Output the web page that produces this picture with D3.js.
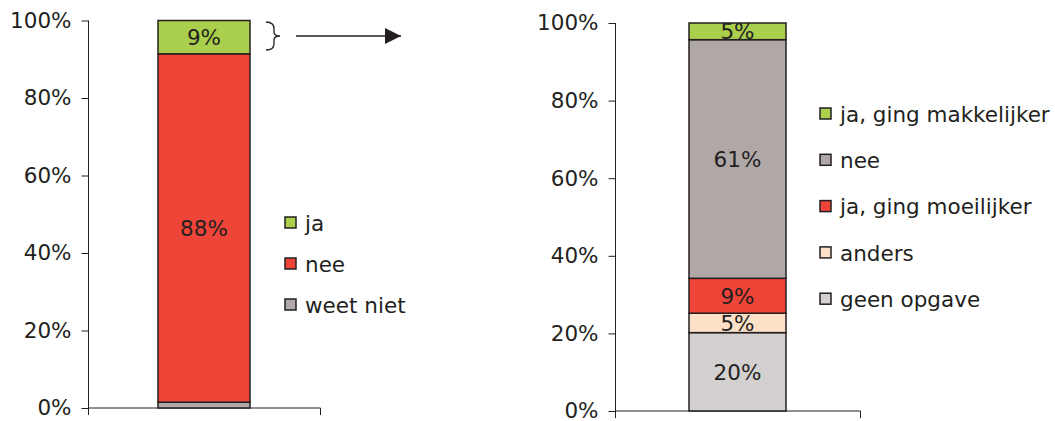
<!DOCTYPE html>
<html>
<head>
<meta charset="utf-8">
<script src="https://cdn.jsdelivr.net/npm/d3@7"></script>
<style>
  body { margin: 0; background: #fff; }
  text { font-family: "DejaVu Sans", Verdana, sans-serif; fill: #231f20; }
</style>
</head>
<body>
<div class="chart"></div>
<script>
var svgWidth = 1055;
var svgHeight = 421;

// left chart: answers (bottom to top)
var leftCats = ["weet niet", "nee", "ja"];
var leftValues = [1.5, 89.9, 8.6];
var leftLabels = ["", "88%", "9%"];
var leftColors = ["#b0a8a7", "#ef4438", "#a9cf4c"];

// right chart: breakdown (bottom to top)
var rightCats = ["geen opgave", "anders", "ja, ging moeilijker", "nee", "ja, ging makkelijker"];
var rightValues = [20.2, 5.0, 9.0, 61.5, 4.3];
var rightLabels = ["20%", "5%", "9%", "61%", "5%"];
var rightColors = ["#d4d0d0", "#fde0c8", "#ef4438", "#b0a8a7", "#a9cf4c"];

var yTicks = [0, 20, 40, 60, 80, 100];

var fontSize = "21.5px";

var svg = d3.select(".chart")
  .append("svg")
  .attr("width", svgWidth)
  .attr("height", svgHeight);

function drawChart(opts) {
  var g = svg.append("g");

  var y = d3.scaleLinear()
    .domain([0, 100])
    .range([opts.bottom, opts.top]);

  // stack values, normalised to 100%
  var total = d3.sum(opts.values);
  var segs = [];
  var acc = 0;
  opts.values.forEach(function(v, i) {
    var p = v / total * 100;
    segs.push({ y0: acc, y1: acc + p, label: opts.labels[i], color: opts.colors[i] });
    acc += p;
  });

  // y axis
  var leftAxis = d3.axisLeft(y)
    .tickValues(yTicks)
    .tickSize(7)
    .tickPadding(10)
    .tickFormat(d => d + "%");

  var yAxis = g.append("g")
    .attr("transform", `translate(${opts.axisX}, 0)`)
    .call(leftAxis);
  yAxis.select(".domain").remove();
  yAxis.selectAll(".tick line").attr("stroke", "#231f20").attr("stroke-width", 1);
  yAxis.selectAll(".tick text")
    .style("font-size", fontSize)
    .style("font-family", "'DejaVu Sans', Verdana, sans-serif")
    .attr("fill", "#231f20");

  g.append("line")
    .attr("x1", opts.axisX).attr("x2", opts.axisX)
    .attr("y1", y(100)).attr("y2", opts.bottom + 7)
    .attr("stroke", "#231f20");

  // x axis
  g.append("line")
    .attr("x1", opts.axisX).attr("x2", opts.axisEnd)
    .attr("y1", opts.bottom).attr("y2", opts.bottom)
    .attr("stroke", "#231f20");
  g.append("line")
    .attr("x1", opts.axisEnd).attr("x2", opts.axisEnd)
    .attr("y1", opts.bottom).attr("y2", opts.bottom + 7)
    .attr("stroke", "#231f20");

  // bars
  g.selectAll("rect.seg")
    .data(segs)
    .enter()
    .append("rect")
    .attr("class", "seg")
    .attr("x", opts.barX)
    .attr("width", opts.barW)
    .attr("y", d => y(d.y1))
    .attr("height", d => y(d.y0) - y(d.y1))
    .attr("fill", d => d.color)
    .attr("stroke", "#231f20")
    .attr("stroke-width", 1.5);

  g.selectAll("text.lbl")
    .data(segs)
    .enter()
    .append("text")
    .attr("class", "lbl")
    .attr("x", opts.barX + opts.barW / 2)
    .attr("y", d => y((d.y0 + d.y1) / 2))
    .attr("dy", "0.36em")
    .attr("text-anchor", "middle")
    .style("font-size", fontSize)
    .text(d => d.label);

  // legend (top to bottom = reversed stack)
  var legendData = opts.cats.map(function(c, i) { return { name: c, color: opts.colors[i] }; }).reverse();
  var legend = g.selectAll("g.leg")
    .data(legendData)
    .enter()
    .append("g")
    .attr("class", "leg")
    .attr("transform", (d, i) => `translate(${opts.legX}, ${opts.legY + i * opts.legStep})`);

  legend.append("rect")
    .attr("x", 0).attr("y", -6)
    .attr("width", 11).attr("height", 11)
    .attr("fill", d => d.color)
    .attr("stroke", "#231f20")
    .attr("stroke-width", 1.5);

  legend.append("text")
    .attr("x", 20)
    .attr("y", 0)
    .attr("dy", "0.36em")
    .style("font-size", fontSize)
    .text(d => d.name);
}

drawChart({
  cats: leftCats, values: leftValues, labels: leftLabels, colors: leftColors,
  top: 20.5, bottom: 408, axisX: 88.5, axisEnd: 320.5,
  barX: 158, barW: 92,
  legX: 285, legY: 223, legStep: 41
});

drawChart({
  cats: rightCats, values: rightValues, labels: rightLabels, colors: rightColors,
  top: 23, bottom: 411, axisX: 615.5, axisEnd: 860.5,
  barX: 689, barW: 97,
  legX: 820, legY: 114, legStep: 46.3
});

// brace and arrow linking the "ja" segment to the breakdown
svg.append("path")
  .attr("d", "M266,22 Q274,22 274,29 L274,32 Q274,36 280,36 Q274,36 274,40 L274,44 Q274,50 266,50")
  .attr("fill", "none")
  .attr("stroke", "#231f20")
  .attr("stroke-width", 1.3);

svg.append("defs").append("marker")
  .attr("id", "arrowhead")
  .attr("viewBox", "0 0 10 10")
  .attr("refX", 10).attr("refY", 5)
  .attr("markerUnits", "userSpaceOnUse")
  .attr("markerWidth", 20).attr("markerHeight", 16)
  .attr("orient", "auto")
  .append("path")
  .attr("d", "M0,0 L10,5 L0,10 Z")
  .attr("fill", "#231f20");

svg.append("line")
  .attr("x1", 296).attr("x2", 401)
  .attr("y1", 36).attr("y2", 36)
  .attr("stroke", "#231f20")
  .attr("stroke-width", 1.3)
  .attr("marker-end", "url(#arrowhead)");
</script>
</body>
</html>
